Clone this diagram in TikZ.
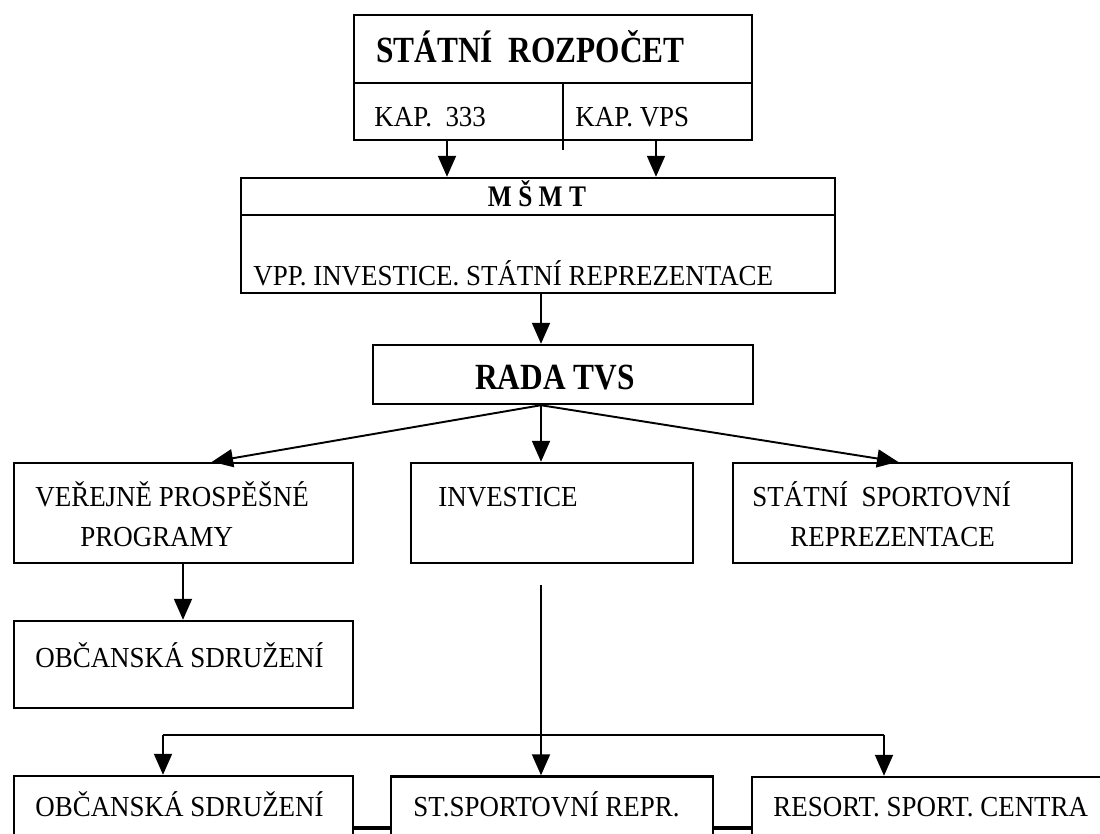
\documentclass[tikz,border=0pt]{standalone}
\usepackage{fontspec}
\setmainfont{Liberation Serif}[FakeStretch=0.93]
\newfontfamily\headfont{Liberation Serif}[FakeStretch=0.85]
\usepackage{tikz}
\usetikzlibrary{arrows.meta, calc}
\tikzset{box/.style={draw, line width=1.4pt, inner sep=0pt}}
\tikzset{arr/.style={-{Triangle[length=0.42cm, width=0.36cm]}, line width=1.1pt}}
\tikzset{lbl/.style={anchor=base west, inner sep=0pt}}
\tikzset{head/.style={inner sep=0pt, font=\headfont\fontsize{21}{24}\selectfont\bfseries}}

\begin{document}
\begin{tikzpicture}[x=0.02cm, y=-0.02cm]
		\fontsize{16.5}{19}\selectfont
		\useasboundingbox (0,0) rectangle (1100,834);
		\clip (0,0) rectangle (1100,834);
		
		% statni rozpocet
		\node[box, minimum width=7.96cm, minimum height=2.5cm] (rozp) at (553,77.5) {};
		\coordinate (rmid) at (0,83);
		\draw[line width=1.4pt] (rozp.west |- rmid) -- (rozp.east |- rmid);
		\coordinate (div) at (563,150);
		\draw[line width=1.2pt] (div |- rmid) -- (div);
		\node[head, anchor=base west] (rozptxt) at (376,63) {STÁTNÍ\ \ ROZPOČET};
		\node[lbl] (k333) at (374,127) {KAP.\ \ 333};
		\node[lbl] (kvps) at (575,127) {KAP. VPS};
		
		% msmt
		\node[box, minimum width=11.88cm, minimum height=2.3cm] (msmt) at (538,235.5) {};
		\coordinate (mmid) at (0,215);
		\draw[line width=1.4pt] (msmt.west |- mmid) -- (msmt.east |- mmid);
		\node[head, font=\headfont\fontsize{17}{20}\selectfont\bfseries, anchor=base] (msmttxt) at (537,207) {M Š M T};
		\node[lbl] (msmtsub) at (253,286) {VPP. INVESTICE. STÁTNÍ REPREZENTACE};
		
		\coordinate (a333) at (447,0);
		\coordinate (avps) at (656,0);
		\draw[arr] (rozp.south -| a333) -- (msmt.north -| a333);
		\draw[arr] (rozp.south -| avps) -- (msmt.north -| avps);
		
		% rada tvs
		\node[box, minimum width=7.6cm, minimum height=1.18cm] (rada) at (563,374.5) {};
		\node[head, anchor=base west] (radatxt) at (475,390) {RADA TVS};
		\coordinate (amid) at (541,0);
		\draw[arr] (msmt.south -| amid) -- (rada.north -| amid);
		
		% second row
		\node[box, minimum width=6.78cm, minimum height=2cm] (vpp) at (183.5,513) {};
		\node[box, minimum width=5.64cm, minimum height=2cm] (inv) at (552,513) {};
		\node[box, minimum width=6.78cm, minimum height=2cm] (ssr) at (902.5,513) {};
		\node[lbl] (vpp1) at (35,507) {VEŘEJNĚ PROSPĚŠNÉ};
		\node[lbl] (vpp2) at (80,547) {PROGRAMY};
		\node[lbl] (invtxt) at (438,507) {INVESTICE};
		\node[lbl] (ssr1) at (752,507) {STÁTNÍ\ \ SPORTOVNÍ};
		\node[lbl] (ssr2) at (790,547) {REPREZENTACE};
		
		\coordinate (fan) at (rada.south -| amid);
		\draw[arr] (fan) -- (vpp.north -| 212,0);
		\draw[arr] (fan) -- (inv.north -| amid);
		\draw[arr] (fan) -- (ssr.north -| 898,0);
		
		% obcanska sdruzeni
		\node[box, minimum width=6.78cm, minimum height=1.74cm] (obs) at (183.5,664.5) {};
		\node[lbl] (obstxt) at (35,668) {OBČANSKÁ SDRUŽENÍ};
		\draw[arr] (vpp.south -| 183,0) -- (obs.north -| 183,0);
		
		% bottom row
		\node[box, minimum width=6.78cm, minimum height=1.68cm] (obs2) at (183.5,818) {};
		\node[box, minimum width=6.44cm, minimum height=1.66cm] (strep) at (552,818) {};
		\node[box, minimum width=7.16cm, minimum height=1.64cm] (resort) at (931,818) {};
		\node[lbl] (obs2txt) at (35,817) {OBČANSKÁ SDRUŽENÍ};
		\node[lbl] (streptxt) at (413,817) {ST.SPORTOVNÍ REPR.};
		\node[lbl] (resorttxt) at (773,817) {RESORT. SPORT. CENTRA};
		
		\coordinate (istart) at (541,585);
		\coordinate (lft) at (163,735);
		\coordinate (rgt) at (884,735);
		\draw[arr] (istart) -- (strep.north -| amid);
		\draw[line width=1.1pt] (lft) -- (rgt);
		\draw[arr] (lft) -- (obs2.north -| lft);
		\draw[arr] (rgt) -- (resort.north -| rgt);
		\coordinate (low) at (0,828);
		\draw[line width=1.8pt] (obs2.east |- low) -- (strep.west |- low);
		\draw[line width=1.8pt] (strep.east |- low) -- (resort.west |- low);
	\end{tikzpicture}
\end{document}
